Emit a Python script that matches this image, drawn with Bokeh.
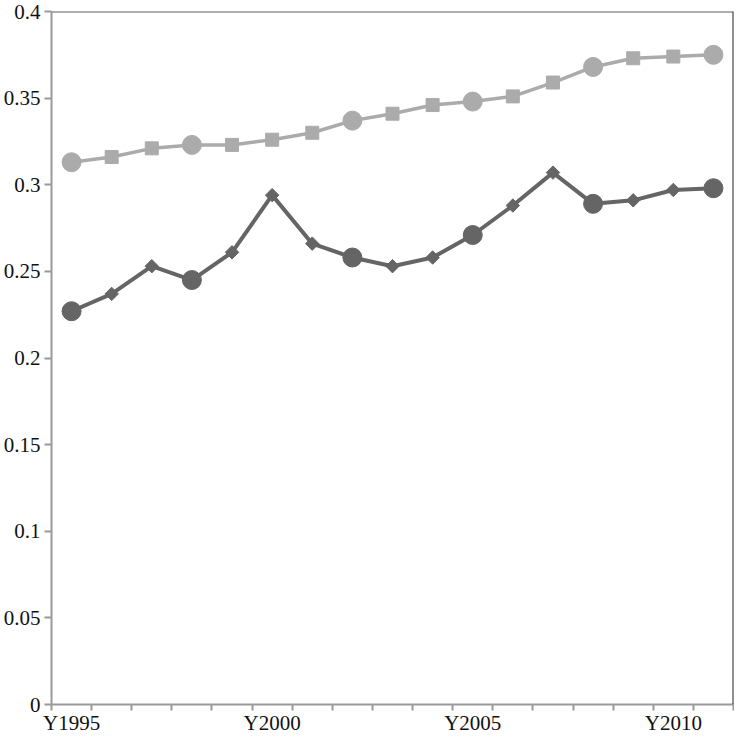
from bokeh.plotting import figure
from bokeh.models import (ColumnDataSource, CDSView, IndexFilter, Range1d,
                          FixedTicker, LinearAxis, Span)
from bokeh.embed import file_html
from bokeh.resources import INLINE
import math

years = ["Y1995", "Y1996", "Y1997", "Y1998", "Y1999", "Y2000", "Y2001", "Y2002",
         "Y2003", "Y2004", "Y2005", "Y2006", "Y2007", "Y2008", "Y2009", "Y2010", "Y2011"]
upper = [0.313, 0.316, 0.321, 0.323, 0.323, 0.326, 0.330, 0.337, 0.341,
         0.346, 0.348, 0.351, 0.359, 0.368, 0.373, 0.374, 0.375]
lower = [0.227, 0.237, 0.253, 0.245, 0.261, 0.294, 0.266, 0.258, 0.253,
         0.258, 0.271, 0.288, 0.307, 0.289, 0.291, 0.297, 0.298]
circle_idx = [0, 3, 7, 10, 13, 16]
labelled_years = ["Y1995", "Y2000", "Y2005", "Y2010"]
y_ticks = [0, 0.05, 0.1, 0.15, 0.2, 0.25, 0.3, 0.35, 0.4]
y_tick_labels = ["0", "0.05", "0.1", "0.15", "0.2", "0.25", "0.3", "0.35", "0.4"]

LIGHT = "#ababab"
DARK = "#656565"
AXIS = "#9a9a9a"
FONT = "Liberation Serif"

xs = list(range(len(years)))
src = ColumnDataSource(dict(x=xs, upper=upper, lower=lower))
other_idx = [i for i in xs if i not in circle_idx]
v_circ = CDSView(filter=IndexFilter(circle_idx))
v_other = CDSView(filter=IndexFilter(other_idx))

x_lo, x_hi = -0.5, len(years) - 0.5
p = figure(width=734, height=737, output_backend="svg", toolbar_location=None,
           x_range=Range1d(x_lo, x_hi), y_range=Range1d(0, 0.4),
           x_axis_type=None, y_axis_type=None,
           min_border_left=46, min_border_right=1, min_border_top=11, min_border_bottom=25)
p.outline_line_color = None
p.xgrid.visible = False
p.ygrid.visible = False
p.background_fill_color = "white"
p.border_fill_color = "white"

# y axis (left)
yax = LinearAxis(ticker=FixedTicker(ticks=y_ticks, minor_ticks=[]))
yax.major_label_overrides = {t: l for t, l in zip(y_ticks, y_tick_labels)}
yax.axis_line_color = AXIS
yax.axis_line_width = 2
yax.major_tick_line_color = AXIS
yax.major_tick_line_width = 2
yax.major_tick_out = 7
yax.major_tick_in = 0
yax.minor_tick_line_color = None
yax.major_label_text_font = FONT
yax.major_label_text_font_size = "21px"
yax.major_label_text_color = "#111111"
yax.major_label_standoff = 4
p.add_layout(yax, "left")

# x axis (below): labels at every 5th year, ticks at category boundaries
label_pos = [years.index(y) for y in labelled_years]
bounds = [i - 0.5 for i in range(len(years) + 1)]
xax = LinearAxis(ticker=FixedTicker(ticks=label_pos, minor_ticks=bounds))
xax.major_label_overrides = {i: years[i] for i in label_pos}
xax.axis_line_color = AXIS
xax.axis_line_width = 2
xax.major_tick_line_color = None
xax.minor_tick_line_color = AXIS
xax.minor_tick_line_width = 2
xax.minor_tick_out = 6
xax.minor_tick_in = 0
xax.major_tick_out = 0
xax.major_tick_in = 0
xax.major_label_text_font = FONT
xax.major_label_text_font_size = "21px"
xax.major_label_text_color = "#111111"
xax.major_label_standoff = 0
p.add_layout(xax, "below")

# frame top and right
p.add_layout(Span(location=0.4, dimension="width", line_color="#5e5e5e", line_width=2))
p.add_layout(Span(location=x_hi, dimension="height", line_color="#222222", line_width=2))

# upper series
p.line("x", "upper", source=src, line_color=LIGHT, line_width=3.5)
p.scatter("x", "upper", source=src, view=v_other, marker="square", size=13,
          fill_color=LIGHT, line_color=LIGHT)
p.scatter("x", "upper", source=src, view=v_circ, marker="circle", size=19,
          fill_color=LIGHT, line_color=LIGHT)

# lower series
p.line("x", "lower", source=src, line_color=DARK, line_width=4)
p.scatter("x", "lower", source=src, view=v_other, marker="square", size=9.5,
          angle=math.pi / 4, fill_color=DARK, line_color=DARK)
p.scatter("x", "lower", source=src, view=v_circ, marker="circle", size=19,
          fill_color=DARK, line_color=DARK)

open("out.html", "w").write(file_html(p, INLINE))
